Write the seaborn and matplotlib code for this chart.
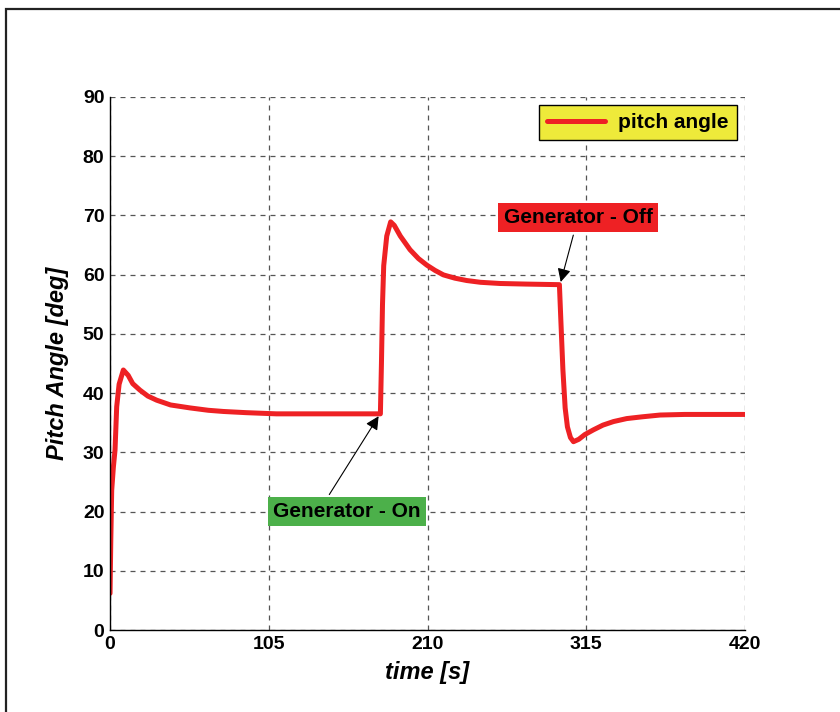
import matplotlib
matplotlib.use('Agg')
import matplotlib.pyplot as plt
import seaborn as sns
import pandas as pd
from matplotlib.patches import Rectangle

# pitch angle curve
time_s = [0, 0.5, 1.1, 2.2, 3.3, 4.4, 6.0, 8.8, 12, 15, 19.8, 25, 30.9, 40, 52.9, 65, 75, 90,
          110, 140, 170, 178.8, 179.5, 180.2, 181, 183, 185.6, 188, 192, 198.4, 204,
          209.5, 215, 220.5, 228, 235.9, 245, 257.9, 275, 297.2, 298.2, 299.5, 301,
          302.5, 304.5, 306.5, 310, 314, 319.7, 326, 333, 341.7, 352, 363.8, 380, 400, 420]
pitch_deg = [6.2, 15.2, 23.6, 27.5, 30.4, 37.7, 41.5, 43.9, 43.0, 41.6, 40.5, 39.5, 38.8, 38.0, 37.5, 37.1, 36.9, 36.7,
             36.5, 36.5, 36.5, 36.5, 45.0, 55.0, 61.5, 66.5, 68.9, 68.3, 66.5, 64.2, 62.7,
             61.6, 60.7, 59.95, 59.4, 59.0, 58.7, 58.5, 58.4, 58.3, 52.0, 44.0, 37.5,
             34.3, 32.5, 31.8, 32.2, 33.0, 33.8, 34.6, 35.2, 35.7, 36.0, 36.3, 36.4, 36.4, 36.4]

x_ticks = [0, 105, 210, 315, 420]
y_ticks = [0, 10, 20, 30, 40, 50, 60, 70, 80, 90]

df = pd.DataFrame({'time': time_s, 'pitch': pitch_deg})

sns.set_style('white')
plt.rcParams['font.family'] = ['Liberation Sans', 'DejaVu Sans']
plt.rcParams['text.color'] = 'black'
plt.rcParams['axes.labelcolor'] = 'black'
plt.rcParams['xtick.color'] = 'black'
plt.rcParams['ytick.color'] = 'black'

fig = plt.figure(figsize=(8.4, 7.12), dpi=100)
ax = fig.add_axes([0.131, 0.115, 0.756, 0.749])

sns.lineplot(data=df, x='time', y='pitch', ax=ax, color='#ee2124', linewidth=3.6,
             label='pitch angle')

ax.set_xlim(0, 420)
ax.set_ylim(0, 90)
ax.set_xticks(x_ticks)
ax.set_yticks(y_ticks)
ax.tick_params(axis='both', labelsize=14, direction='in', length=5, pad=4)
for lbl in ax.get_xticklabels() + ax.get_yticklabels():
    lbl.set_fontweight('bold')

ax.grid(True, color='#555555', linestyle=(0, (4, 4)), linewidth=0.9)
ax.set_axisbelow(True)
for side in ['top', 'right']:
    ax.spines[side].set_visible(False)
for side in ['left', 'bottom']:
    ax.spines[side].set_color('black')
    ax.spines[side].set_linewidth(1.0)

ax.set_xlabel('time [s]', fontsize=17, fontweight='bold', fontstyle='italic', labelpad=6)
ax.set_ylabel('Pitch Angle [deg]', fontsize=17, fontweight='bold', fontstyle='italic', labelpad=10)

leg = ax.legend(loc='upper right', bbox_to_anchor=(0.987, 0.985), borderaxespad=0,
                prop={'weight': 'bold', 'size': 15}, frameon=True, fancybox=False,
                handlelength=2.8, handletextpad=0.6, borderpad=0.4)
leg.get_frame().set_facecolor('#eeea3a')
leg.get_frame().set_edgecolor('black')
leg.get_frame().set_alpha(1)
leg.get_frame().set_linewidth(1.0)

ax.annotate('Generator - On', xy=(178.6, 36.5), xytext=(156.5, 20.0),
            fontsize=15, fontweight='bold', ha='center', va='center',
            bbox=dict(boxstyle='square,pad=0.25', fc='#4cb04a', ec='none'),
            arrowprops=dict(arrowstyle='-|>', color='black', lw=0.8, mutation_scale=20,
                            relpos=(0.35, 1.0)))
ax.annotate('Generator - Off', xy=(297.6, 58.3), xytext=(309.5, 69.6),
            fontsize=15, fontweight='bold', ha='center', va='center',
            bbox=dict(boxstyle='square,pad=0.25', fc='#ee2124', ec='none'),
            arrowprops=dict(arrowstyle='-|>', color='black', lw=0.8, mutation_scale=20))

# outer frame around the figure
fig.patches.append(Rectangle((0.007, -0.05), 1.1, 1.037, transform=fig.transFigure,
                             fill=False, edgecolor='#222222', linewidth=1.6, clip_on=False))

fig.savefig('out.png', dpi=100)
